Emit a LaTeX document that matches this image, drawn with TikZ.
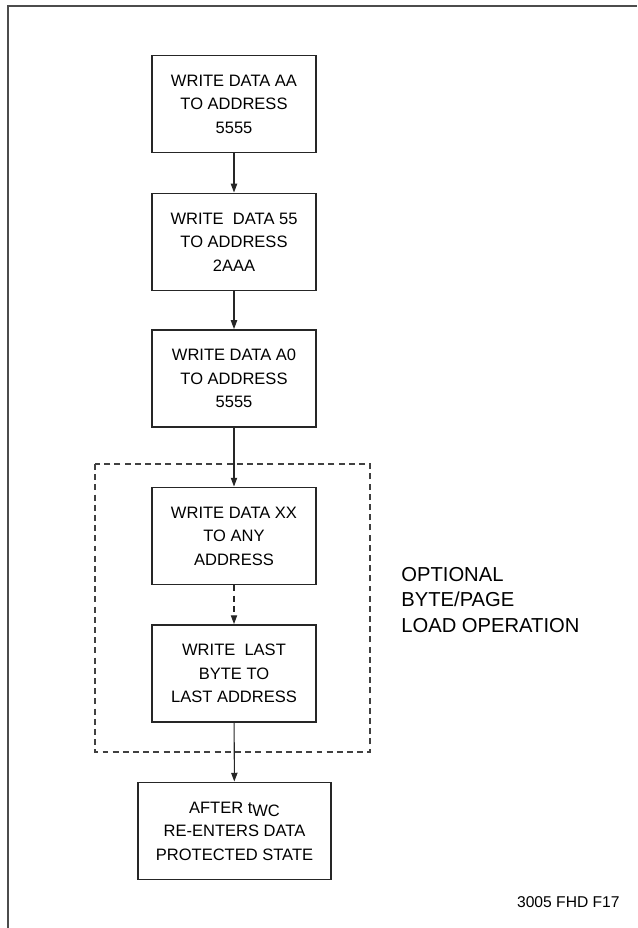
\documentclass[tikz,border=0pt]{standalone}
\usepackage{fontspec}
\setmainfont{Liberation Sans}
\usetikzlibrary{arrows.meta}

\tikzset{
	stepbox/.style={draw=black!85, line width=1.1pt, align=center, inner sep=0pt,
		minimum width=164*0.02cm, minimum height=97*0.02cm,
		font=\fontsize{9.4}{13.4}\selectfont},
	flow/.style={draw=black!85, line width=0.6pt, -{Triangle[length=5pt,width=3.6pt]}},
	optline/.style={draw=black!75, line width=0.8pt, dash pattern=on 3.4pt off 2.4pt}
}

\begin{document}
\begin{tikzpicture}[x=0.02cm, y=-0.02cm]
			%%%%% START %%%%%
			
			\useasboundingbox (0, 0) rectangle (637, 928);
			\draw[black!70, line width=1.1pt] (8, 928) -- (8, 6) -- (637, 6);
			
			\node[stepbox] (aa) at (234, 104) {WRITE DATA AA\\TO ADDRESS\\5555};
			\node[stepbox] (ff) at (234, 242) {WRITE \ DATA 55\\TO ADDRESS\\2AAA};
			\node[stepbox] (az) at (234, 378.5) {WRITE DATA A0\\TO ADDRESS\\5555};
			
			\draw[optline] (95, 464) rectangle (370, 752);
			
			\node[stepbox] (xx) at (234, 536) {WRITE DATA XX\\TO ANY\\ADDRESS};
			\node[stepbox] (last) at (234, 673.5) {WRITE \ LAST\\BYTE TO\\LAST ADDRESS};
			
			\node[stepbox, minimum width=193*0.02cm] (twc) at (234.5, 831)
				{AFTER t\raisebox{-0.45ex}{WC}\\RE-ENTERS DATA\\PROTECTED STATE};
			
			\node[align=left, anchor=west, inner sep=0pt, font=\fontsize{11.5}{14.6}\selectfont]
				(opt) at (401, 600) {OPTIONAL\\BYTE/PAGE\\LOAD OPERATION};
			
			\draw[flow] (aa) -- (ff);
			\draw[flow] (ff) -- (az);
			\draw[flow] (az) -- (xx);
			\draw[flow, dash pattern=on 3.4pt off 2.4pt] (xx) -- (last);
			\draw[flow] (last) -- (twc);
			
			\node[anchor=east, inner sep=0pt, font=\fontsize{8.9}{10}\selectfont]
				(fig) at (620, 902) {3005 FHD F17};
			
			%%%%% END %%%%%
\end{tikzpicture}
\end{document}
